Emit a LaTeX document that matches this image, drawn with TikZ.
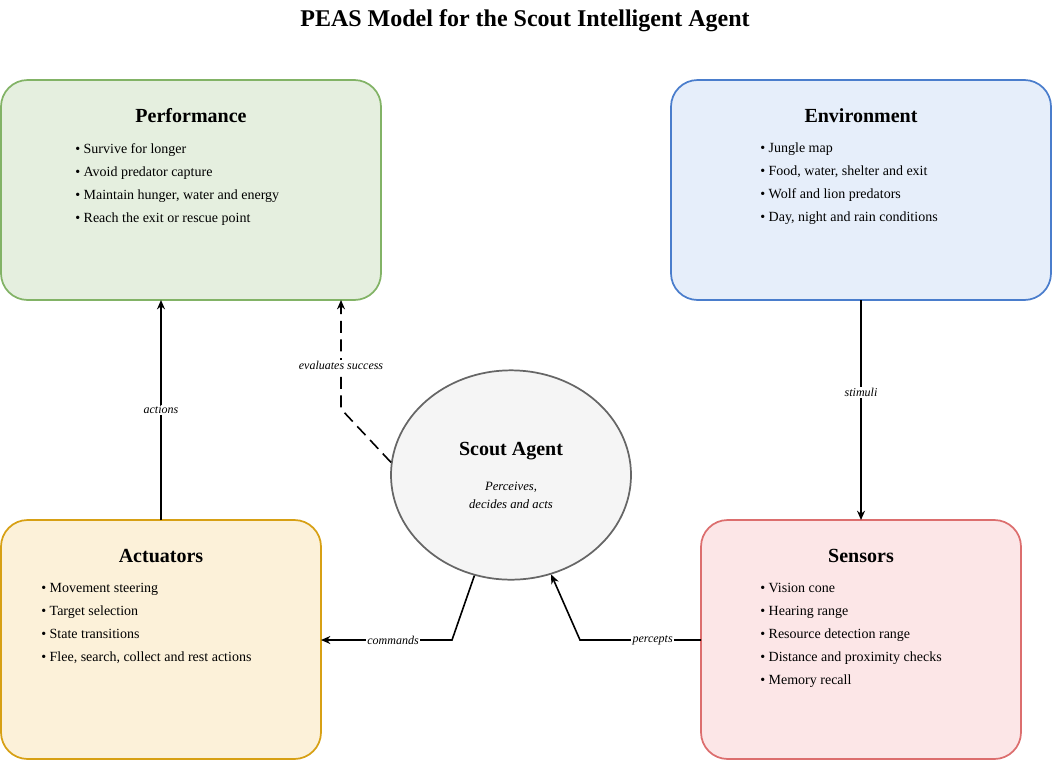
\documentclass[tikz,border=0pt]{standalone}
\usepackage{fontspec}
\setmainfont{Liberation Serif}
\usetikzlibrary{shapes.geometric,arrows.meta}
\definecolor{perffill}{RGB}{229,239,223}
\definecolor{perfdraw}{RGB}{130,179,102}
\definecolor{envfill}{RGB}{230,238,250}
\definecolor{envdraw}{RGB}{74,125,204}
\definecolor{actfill}{RGB}{252,241,217}
\definecolor{actdraw}{RGB}{215,160,20}
\definecolor{sensfill}{RGB}{252,230,231}
\definecolor{sensdraw}{RGB}{220,110,110}
\definecolor{agentfill}{RGB}{245,245,245}
\definecolor{agentdraw}{RGB}{102,102,102}

\begin{document}
\begin{tikzpicture}[x=0.75pt,y=-0.75pt]
    \tikzstyle{peasbox} = [draw, line width=1.3pt, rounded corners=20pt, inner sep=0pt]
    \tikzstyle{heading} = [font=\bfseries\fontsize{15}{18}\selectfont]
    \tikzstyle{bullets} = [anchor=north west, align=left, inner sep=0pt, font=\fontsize{10.5}{17.25}\selectfont]
    \tikzstyle{link} = [line width=1.2pt, -{Stealth[length=7pt,width=6pt]}]
    \tikzstyle{tag} = [font=\itshape\fontsize{9}{11}\selectfont, fill=white, inner sep=1pt]

    \useasboundingbox (0,0) rectangle (1052,761);
    \node [font=\bfseries\fontsize{18}{22}\selectfont] (title) at (525,21) {PEAS Model for the Scout Intelligent Agent};

    % Boxes
    \draw [peasbox, draw=perfdraw, fill=perffill] (1,80) rectangle (381,300);
    \draw [peasbox, draw=envdraw, fill=envfill] (671,80) rectangle (1051,300);
    \draw [peasbox, draw=actdraw, fill=actfill] (1,520) rectangle (321,759);
    \draw [peasbox, draw=sensdraw, fill=sensfill] (701,520) rectangle (1021,759);
    \node [ellipse, draw=agentdraw, fill=agentfill, line width=1.3pt, minimum width=240\pgflinewidth*0+180pt, minimum height=157pt] (agent) at (511,475) {};

    \coordinate (perf) at (191,300);
    \coordinate (env) at (861,300);
    \coordinate (act) at (161,520);
    \coordinate (sens) at (861,520);

    % Headings and lists
    \node [heading] (perfhead) at (191,116) {Performance};
    \node [bullets] (perflist) at (75,143) {• Survive for longer\\ • Avoid predator capture\\ • Maintain hunger, water and energy\\ • Reach the exit or rescue point};
    \node [heading] (envhead) at (861,116) {Environment};
    \node [bullets] (envlist) at (760,143) {• Jungle map\\ • Food, water, shelter and exit\\ • Wolf and lion predators\\ • Day, night and rain conditions};
    \node [heading] (acthead) at (161,556) {Actuators};
    \node [bullets] (actlist) at (41,583) {• Movement steering\\ • Target selection\\ • State transitions\\ • Flee, search, collect and rest actions};
    \node [heading] (senshead) at (861,556) {Sensors};
    \node [bullets] (senslist) at (760,583) {• Vision cone\\ • Hearing range\\ • Resource detection range\\ • Distance and proximity checks\\ • Memory recall};
    \node [heading] (agenthead) at (511,451) {Scout Agent};
    \node [align=center, font=\itshape\fontsize{9.5}{13.5}\selectfont] (agenttext) at (511,495) {Perceives,\\ decides and acts};

    % Connectors
    \draw [link] (act) -- node [tag] {actions} (perf -| 161,0);
    \draw [link, dashed, dash pattern=on 9pt off 5pt] (agent.174) -- (341,409) -- node [tag, pos=0.4] {evaluates success} (341,300);
    \draw [link] (env) -- node [tag, pos=0.42] {stimuli} (sens);
    \draw [link] (agent.250) -- (452,640) -- node [tag, pos=0.45] {commands} (321,640);
    \draw [link] (701,640) -- node [tag, pos=0.4] {percepts} (580,640) -- (agent.292);
\end{tikzpicture}
\end{document}
